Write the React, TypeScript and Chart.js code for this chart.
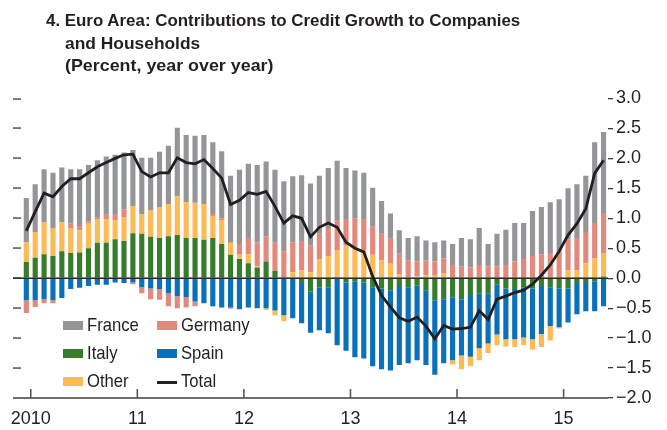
import React, { useEffect, useLayoutEffect, useRef } from 'react';
import { Chart, registerables } from 'chart.js';
Chart.register(...registerables);

// Monthly observations, Dec 2009 – May 2015
const startYear = 2009;
const startMonth = 11; // December (0-based)
const monthCount = 66;
const months: string[] = [];
for (let i = 0; i < monthCount; i++) {
  const m = (startMonth + i) % 12;
  const y = startYear + Math.floor((startMonth + i) / 12);
  months.push(`${y}-${String(m + 1).padStart(2, '0')}`);
}

const france = [0.74,0.80,0.88,0.92,0.91,0.91,0.95,0.94,0.96,0.97,0.99,0.95, 0.94,0.94,0.87,0.92,0.97,1.14,1.12,1.12,1.15,1.20,1.12,1.12, 1.24,1.24,1.29,1.25,1.22,1.17,1.10,1.10,1.04,0.97,1.00,1.00, 0.85,0.80,0.77,0.65,0.55,0.42,0.39,0.37,0.42,0.33,0.32,0.30, 0.35,0.47,0.47,0.62,0.37,0.54,0.59,0.64,0.60,0.75,0.79,0.85, 0.85,0.85,0.90,0.94,1.35,1.35];
const germany = [-0.21,-0.11,-0.07,-0.05,0,0.07,0.07,0.03,0.02,0.07,0.10,0.13, -0.03,-0.10,-0.18,-0.18,-0.22,-0.20,-0.17,-0.08,0,0.03,0.03,-0.02, 0.18,0.27,0.40,0.42,0.47,0.45,0.50,0.49,0.44,0.42,0.47,0.49, 0.45,0.50,0.52,0.47,0.44,0.42,0.34,0.28,0.25,0.25,0.24,0.25, 0.22,0.20,0.18,0.22,0.20,0.20,0.22,0.28,0.32,0.37,0.40,0.42, 0.47,0.52,0.54,0.52,0.59,0.67];
const italy = [0.27,0.34,0.40,0.37,0.45,0.42,0.43,0.50,0.59,0.59,0.65,0.62, 0.75,0.74,0.69,0.67,0.70,0.72,0.67,0.67,0.64,0.67,0.57,0.39, 0.32,0.25,0.18,0.28,0.12,0,0,-0.08,-0.22,-0.15,-0.15,0, -0.07,-0.05,-0.07,-0.15,-0.17,-0.20,-0.13,-0.15,-0.12,-0.20,-0.37,-0.35, -0.32,-0.35,-0.28,-0.25,-0.25,-0.10,-0.17,-0.18,-0.15,-0.17,-0.13,-0.15, -0.17,-0.17,-0.08,-0.08,-0.05,0.03];
const spain = [-0.37,-0.37,-0.35,-0.37,-0.33,-0.18,-0.16,-0.13,-0.11,-0.11,-0.07,-0.08, -0.07,-0.15,-0.17,-0.18,-0.25,-0.30,-0.32,-0.39,-0.42,-0.47,-0.49,-0.49, -0.52,-0.49,-0.50,-0.50,-0.54,-0.62,-0.67,-0.67,-0.69,-0.72,-0.77,-1.12, -1.14,-1.27,-1.27,-1.32,-1.35,-1.34,-1.32,-1.27,-1.25,-1.25,-1.24,-1.07, -1.05,-0.94,-1.03,-0.92,-0.84,-0.84,-0.85,-0.84,-0.84,-0.85,-0.80,-0.65, -0.65,-0.57,-0.52,-0.47,-0.50,-0.47];
const other = [0.33,0.43,0.54,0.47,0.49,0.42,0.37,0.42,0.40,0.40,0.32,0.40, 0.45,0.33,0.45,0.52,0.54,0.65,0.60,0.59,0.60,0.37,0.40,0.20, 0.07,0.15,0.02,-0.03,-0.08,-0.10,0.10,0.13,0.10,0.32,0.37,0.47, 0.54,0.50,0.47,0.39,0.30,0.24,0.07,0.02,0.03,0.05,0.04,0.08, -0.07,-0.23,-0.16,-0.20,-0.16,-0.18,-0.12,-0.13,-0.13,-0.17,-0.22,-0.24, -0.02,0.13,0.13,0.25,0.33,0.39];
const total = [0.79,1.11,1.42,1.36,1.53,1.66,1.66,1.76,1.86,1.93,2.00,2.06, 2.07,1.78,1.69,1.76,1.76,2.01,1.93,1.91,1.98,1.83,1.67,1.23, 1.30,1.43,1.40,1.45,1.20,0.92,1.04,1.00,0.69,0.85,0.92,0.85, 0.60,0.50,0.44,0.03,-0.29,-0.48,-0.66,-0.72,-0.65,-0.80,-1.01,-0.79, -0.85,-0.84,-0.82,-0.54,-0.69,-0.35,-0.30,-0.24,-0.20,-0.10,0.05,0.22, 0.45,0.72,0.91,1.16,1.75,1.97];

const yearLabels = ['2010', '11', '12', '13', '14', '15'];
const yMin = -2.0;
const yMax = 3.0;
const yStep = 0.5;

const titleLines = [
  '4. Euro Area: Contributions to Credit Growth to Companies',
  'and Households',
  '(Percent, year over year)',
];

const COLORS = {
  France: '#939598',
  Germany: '#e2897b',
  Italy: '#367c2b',
  Spain: '#0a70ba',
  Other: '#fdbb57',
  Total: '#231f20',
};

const FONT = '"Liberation Sans", Arial, sans-serif';
const TEXT = '#231f20';

const toXY = (arr: number[]) => arr.map((v, i) => ({ x: i, y: v }));

// year boundaries: half a month before each January
const yearTicks = months
  .map((m, i) => (m.endsWith('-01') ? i - 0.5 : null))
  .filter((v) => v !== null) as number[];

const fmtY = (v: number) => {
  const s = Math.abs(v).toFixed(1);
  return v < -1e-9 ? '\u2212' + s : s;
};

const decorPlugin = {
  id: 'decor',
  beforeDatasetDraw(chart: any, args: any) {
    if (args.meta.type !== 'line') return;
    const { ctx, chartArea, scales } = chart;
    const y0 = scales.y.getPixelForValue(0);
    ctx.save();
    ctx.fillStyle = TEXT;
    ctx.fillRect(chartArea.left, y0 - 0.75, chartArea.right - chartArea.left, 1.5);
    ctx.restore();
  },
  afterDraw(chart: any) {
    const ctx: CanvasRenderingContext2D = chart.ctx;
    const area = chart.chartArea;
    const xs = chart.scales.x;
    const ys = chart.scales.y;
    ctx.save();
    // left-side inner tick marks mirroring the right axis
    ctx.fillStyle = '#3a3a3c';
    ys.ticks.forEach((t: any) => {
      const py = Math.round(ys.getPixelForValue(t.value));
      ctx.fillRect(area.left, py - 0.6, 8, 1.3);
    });
    // x axis line
    const yb = Math.round(ys.getPixelForValue(yMin));
    ctx.fillStyle = '#6d6e71';
    ctx.fillRect(area.left, yb - 1, area.right - area.left, 2);
    // year tick marks (pointing up into the plot)
    ctx.fillStyle = '#58595b';
    yearTicks.forEach((v) => {
      const px = xs.getPixelForValue(v);
      ctx.fillRect(px - 0.8, yb - 9, 1.6, 9);
    });
    ctx.restore();
  },
};

const barDs = (label: string, data: number[], color: string) => ({
  type: 'bar' as const,
  label,
  data: toXY(data),
  backgroundColor: color,
  borderWidth: 0,
  barPercentage: 0.58,
  categoryPercentage: 1,
  order: 1,
});

function App() {
  const canvasRef = useRef<HTMLCanvasElement | null>(null);
  const titleRefs = useRef<(HTMLDivElement | null)[]>([]);
  const titleTargets = [474, 135, 208];

  useLayoutEffect(() => {
    titleRefs.current.forEach((el, i) => {
      if (!el) return;
      const w = el.offsetWidth;
      if (w > 0) el.style.transform = `scaleX(${titleTargets[i] / w})`;
    });
  }, []);

  useEffect(() => {
    if (!canvasRef.current) return;
    const chart = new Chart(canvasRef.current, {
      type: 'bar',
      data: {
        datasets: [
          barDs('Italy', italy, COLORS.Italy),
          barDs('Spain', spain, COLORS.Spain),
          barDs('Other', other, COLORS.Other),
          barDs('Germany', germany, COLORS.Germany),
          barDs('France', france, COLORS.France),
          {
            type: 'line' as const,
            label: 'Total',
            data: toXY(total),
            borderColor: COLORS.Total,
            borderWidth: 2.8,
            pointRadius: 0,
            tension: 0,
            stack: 'total',
            order: 0,
          } as any,
        ],
      },
      options: {
        responsive: false,
        animation: false,
        devicePixelRatio: 1,
        layout: { padding: { top: 98.5, left: 13, right: 0, bottom: 0 }, autoPadding: false } as any,
        plugins: { legend: { display: false }, tooltip: { enabled: false }, title: { display: false } },
        scales: {
          x: {
            type: 'linear',
            stacked: true,
            offset: false,
            bounds: 'data',
            min: -1.5,
            max: 65.5,
            afterBuildTicks: (scale: any) => {
              scale.ticks = yearTicks.map((v) => ({ value: v }));
            },
            afterFit: (scale: any) => {
              scale.height = 32;
              scale.paddingLeft = 0;
              scale.paddingRight = 0;
            },
            grid: { display: false, drawOnChartArea: false, drawTicks: false },
            border: { display: false },
            ticks: {
              autoSkip: false,
              maxRotation: 0,
              padding: 10,
              color: TEXT,
              font: { family: FONT, size: 18 },
              callback: (_v: any, i: number) => yearLabels[i],
            },
          },
          y: {
            type: 'linear',
            position: 'right',
            stacked: true,
            min: yMin,
            max: yMax,
            afterFit: (scale: any) => {
              scale.width = 59;
            },
            grid: { drawOnChartArea: false, drawTicks: true, tickLength: 5, color: '#3a3a3c', lineWidth: 1.3 },
            border: { display: false },
            ticks: {
              stepSize: yStep,
              padding: 3,
              color: TEXT,
              font: { family: FONT, size: 18 },
              callback: (v: any) => fmtY(Number(v)),
            },
          },
        },
      } as any,
      plugins: [decorPlugin],
    });
    return () => chart.destroy();
  }, []);

  const titleStyle: React.CSSProperties = {
    position: 'absolute',
    fontFamily: FONT,
    fontWeight: 700,
    fontSize: 17,
    lineHeight: '17px',
    color: TEXT,
    whiteSpace: 'nowrap',
    transformOrigin: '0 0',
  };
  const legText: React.CSSProperties = {
    position: 'absolute',
    fontFamily: FONT,
    fontSize: 18.5,
    lineHeight: '18.5px',
    color: TEXT,
    whiteSpace: 'nowrap',
    transformOrigin: '0 0',
    transform: 'scaleX(0.9)',
  };
  const legendItems = [
    { label: 'France', color: COLORS.France, col: 0, row: 0, line: false },
    { label: 'Germany', color: COLORS.Germany, col: 1, row: 0, line: false },
    { label: 'Italy', color: COLORS.Italy, col: 0, row: 1, line: false },
    { label: 'Spain', color: COLORS.Spain, col: 1, row: 1, line: false },
    { label: 'Other', color: COLORS.Other, col: 0, row: 2, line: false },
    { label: 'Total', color: COLORS.Total, col: 1, row: 2, line: true },
  ];
  const colX = [63, 157];
  const rowTop = [321, 349, 377];
  const titlePos = [
    { left: 46, top: 12 },
    { left: 65, top: 34.5 },
    { left: 65, top: 56.5 },
  ];

  return (
    <div style={{ position: 'absolute', left: 0, top: 0, width: 667, height: 430, background: '#fff', overflow: 'hidden' }}>
      <canvas ref={canvasRef} width={667} height={430} style={{ position: 'absolute', left: 0, top: 0 }} />
      {titleLines.map((t, i) => (
        <div
          key={t}
          ref={(el) => {
            titleRefs.current[i] = el;
          }}
          style={{ ...titleStyle, left: titlePos[i].left, top: titlePos[i].top }}
        >
          {t}
        </div>
      ))}
      {legendItems.map((it) => (
        <React.Fragment key={it.label}>
          {it.line ? (
            <div style={{ position: 'absolute', left: colX[it.col], top: rowTop[it.row] + 4, width: 20, height: 2.5, background: it.color }} />
          ) : (
            <div style={{ position: 'absolute', left: colX[it.col], top: rowTop[it.row], width: 20, height: 9, background: it.color }} />
          )}
          <div style={{ ...legText, left: colX[it.col] + 24, top: rowTop[it.row] - 5 }}>{it.label}</div>
        </React.Fragment>
      ))}
    </div>
  );
}

export default App;
